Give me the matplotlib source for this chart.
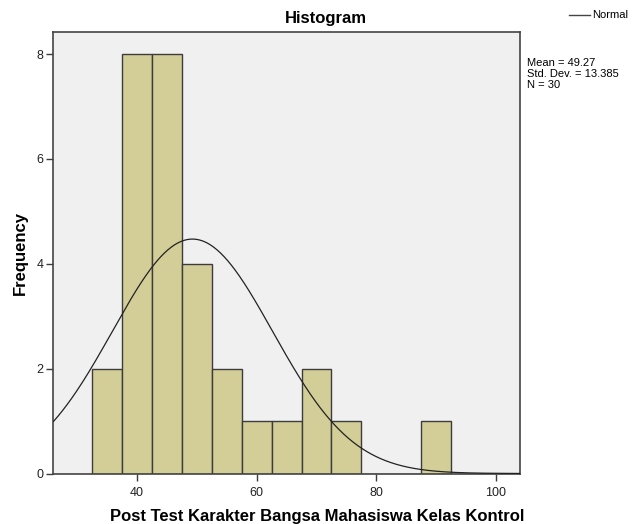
import numpy as np
import matplotlib
matplotlib.use("Agg")
import matplotlib.pyplot as plt

plt.rcParams['font.family'] = ['Liberation Sans', 'DejaVu Sans']

# Data
bin_centers = [35, 40, 45, 50, 55, 60, 65, 70, 75, 80, 85, 90]
counts = [2, 8, 8, 4, 2, 1, 1, 2, 1, 0, 0, 1]
bin_width = 5
mean_val = 49.27
std_val = 13.385
n_val = 30
x_ticks = [40, 60, 80, 100]
y_ticks = [0, 2, 4, 6, 8]

W, H = 632, 524
fig = plt.figure(figsize=(W / 100, H / 100), dpi=100)
ax = fig.add_axes([53.5 / W, (H - 473.5) / H, (520 - 53.5) / W, (473.5 - 32) / H])
ax.set_facecolor('#F0F0F0')

ax.bar(bin_centers, counts, width=bin_width, color='#D3CE97',
       edgecolor='#3C3C3C', linewidth=1.0, zorder=2)

x_lo, x_hi = 26.05, 104.0
xs = np.linspace(x_lo, x_hi, 400)
ys = n_val * bin_width * np.exp(-0.5 * ((xs - mean_val) / std_val) ** 2) / (std_val * np.sqrt(2 * np.pi))
ax.plot(xs, ys, color='#222222', linewidth=0.9, zorder=3)

ax.set_xlim(x_lo, x_hi)
ax.set_ylim(0, 8.42)
ax.set_xticks(x_ticks)
ax.set_yticks(y_ticks)
ax.tick_params(axis='both', labelsize=9, length=5, width=1, color='#3C3C3C', labelcolor='#222222', pad=2)
ax.tick_params(axis='x', pad=5)
for s in ax.spines.values():
    s.set_color('#444444')
    s.set_linewidth(1.2)

fig.text(326 / W, 1 - 18 / H, 'Histogram', ha='center', va='center', fontsize=12, fontweight='bold')
fig.text(317 / W, 1 - 516 / H, 'Post Test Karakter Bangsa Mahasiswa Kelas Kontrol',
         ha='center', va='center', fontsize=12, fontweight='bold')
fig.text(20 / W, 1 - 253 / H, 'Frequency', ha='center', va='center', rotation=90,
         fontsize=12, fontweight='bold')

# legend
fig.add_artist(plt.Line2D([569 / W, 590 / W], [1 - 15 / H, 1 - 15 / H], color='#444444', linewidth=1.0))
fig.text(592 / W, 1 - 15 / H, 'Normal', ha='left', va='center', fontsize=8)
fig.text(527 / W, 1 - 74 / H,
         f'Mean = {mean_val}\nStd. Dev. = {std_val}\nN = {n_val}',
         ha='left', va='center', fontsize=8, linespacing=1.1)

fig.savefig('out.png', dpi=100, facecolor='white')
